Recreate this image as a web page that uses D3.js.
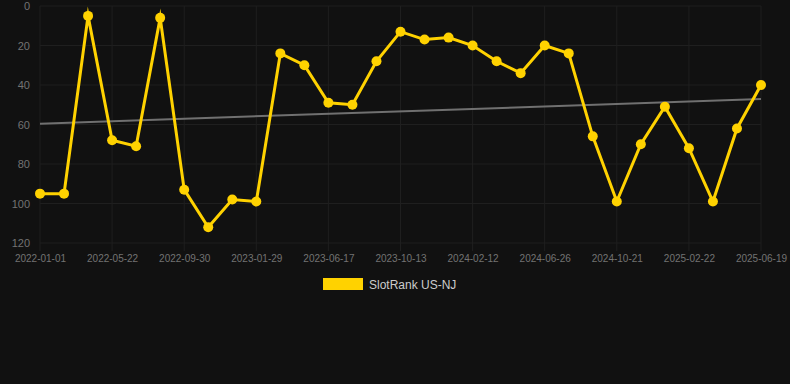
<!DOCTYPE html>
<html>
<head>
<meta charset="utf-8">
<script src="https://cdn.jsdelivr.net/npm/d3@7"></script>
<style>
  body { margin: 0; background: #111111; }
  svg { display: block; }
</style>
</head>
<body>
<div id="chart"></div>
<script>
// dates of each sample (only every third one is labelled on the axis)
var categories = [
  '2022-01-01', '2022-02-16', '2022-04-03', '2022-05-22', '2022-06-25', '2022-08-10',
  '2022-09-30', '2022-11-09', '2022-12-20', '2023-01-29', '2023-03-16', '2023-05-02',
  '2023-06-17', '2023-07-26', '2023-09-04', '2023-10-13', '2023-11-22', '2024-01-02',
  '2024-02-12', '2024-03-27', '2024-05-11', '2024-06-26', '2024-08-04', '2024-09-12',
  '2024-10-21', '2024-12-02', '2025-01-12', '2025-02-22', '2025-04-05', '2025-05-12',
  '2025-06-19'
]
var rankValues = [
  95, 95, 5, 68, 71, 6, 93, 112, 98, 99, 24, 30, 49, 50, 28, 13,
  17, 16, 20, 28, 34, 20, 24, 66, 99, 70, 51, 72, 99, 62, 40
]
var xTickLabels = [
  '2022-01-01', '2022-05-22', '2022-09-30', '2023-01-29', '2023-06-17', '2023-10-13',
  '2024-02-12', '2024-06-26', '2024-10-21', '2025-02-22', '2025-06-19'
]
var yTicks = [0, 20, 40, 60, 80, 100, 120]
var seriesName = 'SlotRank US-NJ'

var width = 790,
    height = 384
var margin = { top: 6, right: 29, bottom: 141, left: 40 }
var lineColor = '#ffd200'

var svg = d3.select('#chart').append('svg')
    .attr('width', width).attr('height', height)
    .style('background', '#111111')
    .style('font-family', 'Arial, "Liberation Sans", Helvetica, sans-serif')

var xScale = d3.scalePoint()
    .domain(categories)
    .range([margin.left, width - margin.right])

var yScale = d3.scaleLinear()
    .domain([0, 120])
    .range([margin.top, height - margin.bottom])

// grid
var grid = svg.append('g')
grid.selectAll('.hgrid').data(yTicks).enter().append('line')
    .attr('x1', margin.left).attr('x2', width - margin.right)
    .attr('y1', function(d){ return yScale(d) })
    .attr('y2', function(d){ return yScale(d) })
    .style('stroke', '#1f1f1f').style('stroke-width', 1)
grid.selectAll('.vgrid').data(xTickLabels).enter().append('line')
    .attr('x1', function(d){ return xScale(d) })
    .attr('x2', function(d){ return xScale(d) })
    .attr('y1', margin.top).attr('y2', height - margin.bottom + 8)
    .style('stroke', '#1f1f1f').style('stroke-width', 1)

// axes
var yAxis = d3.axisLeft(yScale).tickValues(yTicks).tickSize(0).tickPadding(10)
var yG = svg.append('g')
    .attr('transform', 'translate(' + margin.left + ',0)')
    .call(yAxis)
yG.select('.domain').remove()
yG.selectAll('text').style('fill', '#737373').style('font-size', '11px')

var xAxis = d3.axisBottom(xScale).tickValues(xTickLabels).tickSize(0).tickPadding(12)
var xG = svg.append('g')
    .attr('transform', 'translate(0,' + (height - margin.bottom) + ')')
    .call(xAxis)
xG.select('.domain').remove()
xG.selectAll('text').style('fill', '#737373').style('font-size', '10px')

// least squares trend line
var n = rankValues.length
var meanX = d3.mean(d3.range(n))
var meanY = d3.mean(rankValues)
var sxy = d3.sum(rankValues, function(d, i){ return (i - meanX) * (d - meanY) })
var sxx = d3.sum(d3.range(n), function(i){ return (i - meanX) * (i - meanX) })
var slope = sxy / sxx
var trend = [0, n - 1].map(function(i){ return [i, meanY + slope * (i - meanX)] })

svg.append('line')
    .attr('x1', xScale(categories[trend[0][0]]))
    .attr('y1', yScale(trend[0][1]))
    .attr('x2', xScale(categories[trend[1][0]]))
    .attr('y2', yScale(trend[1][1]))
    .style('stroke', '#707070').style('stroke-width', 2)

// series
var line = d3.line()
    .x(function(d, i){ return xScale(categories[i]) })
    .y(function(d){ return yScale(d) })

svg.append('path')
    .datum(rankValues)
    .attr('d', line)
    .style('fill', 'none')
    .style('stroke', lineColor)
    .style('stroke-width', 3)
    .style('stroke-linejoin', 'miter')
    .style('stroke-miterlimit', 10)

svg.append('g').selectAll('circle')
    .data(rankValues)
    .enter()
    .append('circle')
    .attr('cx', function(d, i){ return xScale(categories[i]) })
    .attr('cy', function(d){ return yScale(d) })
    .attr('r', 5)
    .style('fill', lineColor)

// legend
var legend = svg.append('g').attr('transform', 'translate(323,278)')
legend.append('rect')
    .attr('width', 40).attr('height', 12)
    .style('fill', lineColor)
legend.append('text')
    .attr('x', 46).attr('y', 10.5)
    .style('fill', '#cccccc').style('font-size', '12px')
    .text(seriesName)
</script>
</body>
</html>
